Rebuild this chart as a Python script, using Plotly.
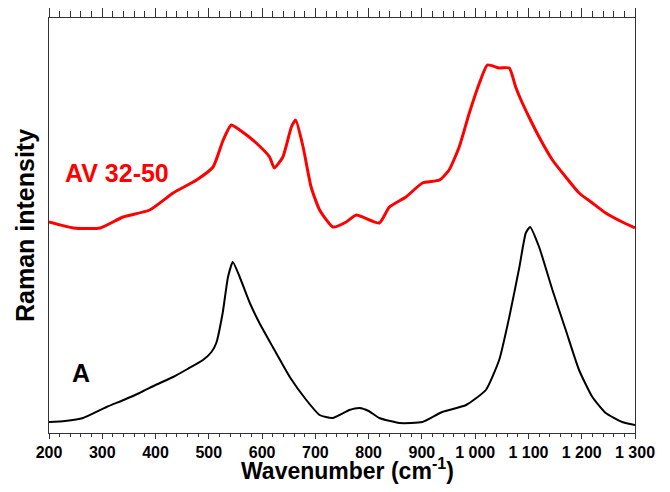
import plotly.graph_objects as go

# Black spectrum (sample A)
wn_a = [200, 230, 264, 308, 340, 370, 400, 433, 460, 489, 505, 514, 526, 536, 545, 558, 577, 595, 620, 652,
        683, 708, 732, 764, 783, 800, 820, 858, 901, 938, 983, 1020, 1045, 1064, 1083, 1095, 1103, 1120,
        1145, 1170, 1195, 1220, 1245, 1276, 1300]
int_a = [8, 9, 12, 23, 30, 37, 45, 53, 61, 70, 78, 87, 117, 153, 168, 153, 127, 107, 83, 53,
         30, 15, 12, 20, 22, 19, 12, 7, 8, 18, 25, 40, 70, 113, 163, 197, 203, 183,
         140, 100, 60, 33, 17, 8, 5]

# Red spectrum (AV 32-50)
wn_av = [200, 246, 296, 339, 389, 433, 477, 508, 527, 542, 558, 589, 614, 623, 639, 655, 663, 677, 692,
         708, 733, 758, 777, 820, 839, 870, 901, 933, 951, 970, 989, 1008, 1023, 1045, 1064, 1076,
         1086, 1101, 1120, 1145, 1170, 1195, 1220, 1245, 1276, 1300]
int_av = [208, 202, 202, 213, 220, 237, 250, 263, 290, 305, 300, 287, 273, 262, 273, 303, 310, 283, 243,
          220, 203, 208, 215, 207, 223, 233, 247, 250, 260, 283, 317, 347, 365, 362, 362, 343,
          330, 313, 293, 270, 253, 237, 227, 217, 208, 202]

tick_vals = [200, 300, 400, 500, 600, 700, 800, 900, 1000, 1100, 1200, 1300]
tick_text = ["200", "300", "400", "500", "600", "700", "800", "900", "1 000", "1 100", "1 200", "1 300"]

font_family = "Liberation Sans, Arial, sans-serif"

# the page body has an 8px margin; figure is sized so the plot area lands at
# x 49..635, y 18..433 in the browser window
FIG_W, FIG_H = 654, 476
M_L, M_R, M_T, M_B = 41, 27, 10, 51
BODY = 8
PW = FIG_W - M_L - M_R
PH = FIG_H - M_T - M_B
X0 = BODY + M_L
Y1 = BODY + FIG_H - M_B


def px_to_paper(px, py):
    return (px - X0) / PW, (Y1 - py) / PH


fig = go.Figure()
fig.add_trace(go.Scatter(x=wn_av, y=int_av, mode="lines",
                         line=dict(color="#ff0000", width=3, shape="spline", smoothing=0.5),
                         showlegend=False))
fig.add_trace(go.Scatter(x=wn_a, y=int_a, mode="lines",
                         line=dict(color="#000000", width=2, shape="spline", smoothing=0.5),
                         showlegend=False))
# invisible trace to activate the top axis
fig.add_trace(go.Scatter(x=[200, 1300], y=[None, None], xaxis="x2", mode="lines", showlegend=False,
                         hoverinfo="skip"))

xt_x, xt_y = px_to_paper(347, 469)
yt_x, yt_y = px_to_paper(25, 226)

fig.update_layout(
    width=FIG_W, height=FIG_H,
    margin=dict(l=M_L, r=M_R, t=M_T, b=M_B, autoexpand=False),
    plot_bgcolor="white", paper_bgcolor="white",
    font=dict(family=font_family, color="black"),
    xaxis=dict(
        range=[200, 1300], tickmode="array", tickvals=tick_vals, ticktext=tick_text,
        ticks="outside", ticklen=5, tickwidth=1, tickcolor="#333", automargin=False,
        minor=dict(ticks="outside", ticklen=3, dtick=20, tickcolor="#333", showgrid=False),
        showline=True, linecolor="#333", linewidth=1, showgrid=False, zeroline=False,
        tickfont=dict(size=16, family=font_family, color="black", weight="bold"),
    ),
    xaxis2=dict(
        range=[200, 1300], overlaying="x", side="top", tickmode="linear", tick0=200, dtick=100,
        ticks="outside", ticklen=10, tickwidth=1, tickcolor="#333", showticklabels=False,
        automargin=False,
        minor=dict(ticks="outside", ticklen=6, dtick=20, tickcolor="#333", showgrid=False),
        showline=True, linecolor="#333", linewidth=1, showgrid=False, zeroline=False,
    ),
    yaxis=dict(
        range=[-3, 412], showticklabels=False, ticks="", showline=True, mirror=True, automargin=False,
        linecolor="#333", linewidth=1, showgrid=False, zeroline=False,
    ),
    annotations=[
        dict(x=226, y=257, xref="x", yref="y", text="<b>AV 32-50</b>", showarrow=False,
             xanchor="left", yanchor="middle", font=dict(size=25, color="#ff0000", family=font_family)),
        dict(x=239, y=57, xref="x", yref="y", text="<b>A</b>", showarrow=False,
             xanchor="left", yanchor="middle", font=dict(size=25, color="black", family=font_family)),
        dict(x=xt_x, y=xt_y, xref="paper", yref="paper", text="<b>Wavenumber (cm<sup>-1</sup>)</b>",
             showarrow=False, xanchor="center", yanchor="middle",
             font=dict(size=23, color="black", family=font_family)),
        dict(x=yt_x, y=yt_y, xref="paper", yref="paper", text="<b>Raman intensity</b>", textangle=-90,
             showarrow=False, xanchor="center", yanchor="middle",
             font=dict(size=25, color="black", family=font_family)),
    ],
)

fig.write_html("out.html")
